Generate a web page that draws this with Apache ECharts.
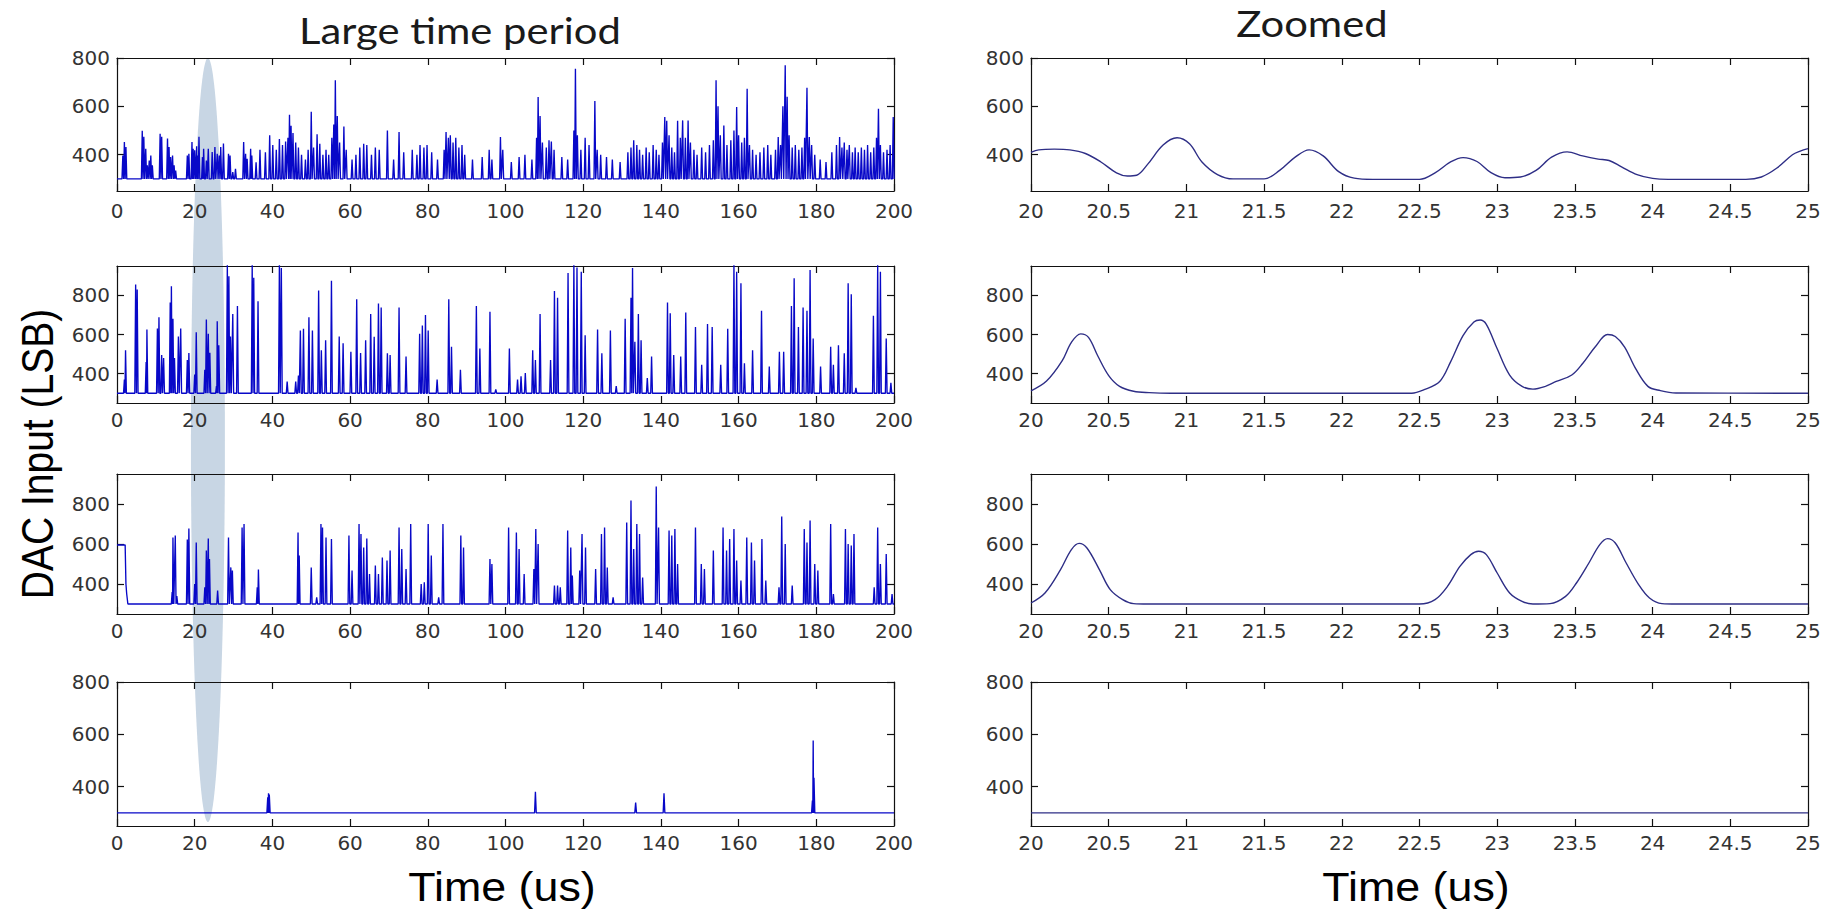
<!DOCTYPE html>
<html><head><meta charset="utf-8">
<script src="https://cdn.jsdelivr.net/npm/echarts@6/dist/echarts.min.js"></script>
<style>html,body{margin:0;padding:0;background:#fff}#chart{width:1843px;height:909px}</style>
</head><body><div id="chart"></div>
<script>
// ---------------- data ----------------
const BASELINE = 300;
const longTimeTicks = [0, 20, 40, 60, 80, 100, 120, 140, 160, 180, 200];
const zoomTimeTicks = [20, 20.5, 21, 21.5, 22, 22.5, 23, 23.5, 24, 24.5, 25];
const yTickValues = [400, 600, 800];
const rowYRanges = [[250, 800], [250, 950], [250, 950], [250, 800]];
const HIGHLIGHT_TIME = 23.4;

// Long-period panels: pulse peaks [time (us), DAC code]
const longRow1Peaks = [[1.5,397],[1.9,453],[2.3,432],[6.5,499],[6.9,474],[7.4,425],[7.8,356],[8.3,376],[8.7,397],[9.1,356],[11.1,487],[11.5,474],[13.0,467],[13.4,432],[13.8,390],[14.3,397],[14.7,356],[15.1,335],[18.1,397],[18.5,404],[19.3,453],[19.6,425],[20.0,418],[20.5,435],[20.7,397],[21.1,474],[22.0,390],[22.3,425],[23.0,376],[23.5,425],[24.5,411],[25.2,432],[25.8,404],[26.3,397],[26.7,432],[27.4,446],[28.7,404],[29.1,397],[29.8,328],[30.5,342],[32.6,453],[33.1,404],[33.5,383],[34.4,425],[34.7,397],[35.8,369],[36.8,420],[38.2,410],[39.3,480],[40.1,440],[41.0,420],[41.8,465],[42.6,440],[43.4,455],[44.0,470],[44.4,565],[44.8,520],[45.3,490],[46.0,450],[46.7,430],[47.5,400],[48.5,380],[49.2,420],[50.0,578],[50.6,430],[51.5,485],[52.2,445],[53.0,400],[53.8,420],[54.5,400],[55.3,470],[55.8,525],[56.2,708],[56.7,560],[57.3,450],[58.4,517],[59.0,420],[60.5,380],[61.5,400],[62.5,430],[63.5,445],[64.3,440],[65.5,400],[66.5,430],[67.5,420],[69.6,500],[71.2,380],[72.6,494],[73.8,410],[76.0,420],[77.2,400],[78.0,440],[79.0,430],[79.8,440],[81.0,410],[82.5,380],[84.2,420],[84.7,494],[85.3,470],[85.8,480],[86.5,450],[87.2,470],[88.0,430],[88.8,440],[89.5,400],[91.5,380],[94.0,390],[95.8,420],[96.5,380],[98.7,473],[99.3,420],[101.5,370],[103.5,390],[105.0,400],[106.8,380],[108.0,470],[108.4,639],[108.9,560],[109.5,450],[110.5,430],[111.2,460],[111.8,455],[112.5,420],[114.5,390],[116.0,380],[117.6,500],[118.0,756],[118.5,480],[119.4,420],[120.5,470],[121.5,440],[123.0,622],[123.6,420],[124.5,400],[126.0,390],[127.5,380],[129.5,370],[131.5,410],[132.3,430],[133.0,460],[133.8,440],[134.5,420],[135.3,400],[136.2,430],[137.0,410],[138.0,440],[138.8,420],[139.5,400],[140.4,450],[141.0,556],[141.5,540],[142.1,480],[142.8,430],[143.5,410],[144.3,540],[145.0,470],[145.6,542],[146.3,470],[147.0,542],[147.6,450],[148.5,420],[149.3,400],[150.5,430],[151.5,410],[152.5,440],[153.5,460],[154.2,708],[154.7,600],[155.3,480],[156.2,521],[157.0,440],[158.0,460],[158.8,500],[159.5,597],[160.0,480],[160.8,450],[161.5,470],[162.2,673],[162.8,440],[163.6,420],[164.5,400],[165.5,410],[166.5,430],[167.5,440],[168.3,400],[169.5,420],[170.2,473],[170.8,440],[171.4,600],[172.0,770],[172.5,640],[173.0,480],[173.8,430],[174.6,440],[175.5,420],[176.3,430],[177.0,470],[177.6,677],[178.2,473],[178.8,440],[179.6,400],[181.0,380],[182.5,370],[184.0,410],[185.2,440],[186.0,473],[186.6,430],[187.2,450],[187.9,420],[188.5,440],[189.3,410],[190.0,430],[190.8,410],[191.6,430],[192.4,420],[193.2,440],[194.0,410],[194.8,430],[195.5,470],[196.0,590],[196.5,440],[197.3,410],[198.2,420],[199.0,440],[199.8,556]];

const longRow2Peaks = [[1.9,370],[2.2,520],[4.8,855],[5.2,830],[7.5,460],[7.7,626],[10.4,630],[10.8,688],[11.5,495],[12.0,480],[13.7,763],[14.0,847],[14.4,680],[14.8,480],[15.8,590],[16.4,630],[18.1,470],[18.5,505],[20.0,395],[20.4,612],[22.6,420],[23.0,676],[23.5,604],[23.9,507],[25.6,336],[25.8,668],[26.2,545],[28.4,960],[28.8,897],[29.2,590],[29.8,705],[31.0,746],[34.8,960],[35.2,890],[36.3,770],[41.8,960],[42.3,940],[43.8,360],[46.0,360],[46.7,390],[47.2,621],[48.0,629],[49.4,688],[50.3,620],[51.9,825],[52.6,520],[53.7,570],[55.2,875],[57.2,590],[58.2,555],[60.2,512],[61.7,780],[62.7,505],[64.0,570],[65.3,705],[66.2,588],[67.3,758],[68.0,738],[69.6,504],[70.3,495],[72.6,738],[74.4,487],[77.9,604],[78.6,646],[79.4,700],[80.1,620],[82.4,370],[85.4,780],[86.1,537],[88.4,420],[92.5,746],[93.4,528],[96.0,716],[97.5,320],[101.0,528],[103.1,370],[104.0,387],[105.1,403],[107.0,520],[107.7,470],[108.9,705],[111.6,470],[112.6,822],[113.4,788],[116.1,914],[117.6,960],[118.4,942],[119.5,920],[120.5,596],[123.7,625],[124.8,504],[127.0,620],[128.5,336],[130.8,680],[132.3,788],[132.7,940],[133.3,563],[134.2,705],[134.9,570],[136.5,378],[137.6,487],[141.7,763],[142.4,708],[143.3,495],[145.1,487],[146.4,713],[148.9,638],[150.5,445],[152.0,654],[153.2,638],[155.4,445],[157.2,629],[158.8,960],[159.5,920],[160.6,862],[161.5,453],[163.6,520],[165.9,721],[167.9,437],[170.5,512],[171.6,512],[173.6,746],[174.3,888],[175.4,638],[176.6,738],[177.6,721],[178.4,930],[179.2,579],[181.1,437],[183.7,537],[184.4,445],[185.7,545],[187.2,504],[188.2,862],[189.0,805],[190.2,328],[194.7,696],[195.8,960],[196.5,920],[198.0,579],[199.2,353]];

const longRow3Lead = [[0,595],[2.1,595],[2.3,400],[2.5,350],[2.8,300]];
const longRow3Peaks = [[14.2,360],[14.4,633],[15.0,642],[15.4,340],[18.1,622],[18.5,678],[20.0,400],[20.4,608],[22.6,383],[23.0,567],[23.5,628],[23.8,525],[25.9,367],[28.7,633],[29.3,483],[29.7,467],[32.2,683],[32.7,700],[36.1,383],[36.4,472],[46.6,658],[46.9,542],[50.0,483],[51.4,333],[52.5,700],[52.9,683],[53.8,633],[55.2,625],[59.7,642],[60.5,467],[62.3,700],[62.8,650],[63.5,583],[64.3,628],[65.0,450],[66.5,492],[67.3,450],[68.3,533],[69.5,517],[70.3,567],[72.6,683],[73.3,575],[74.4,475],[75.6,700],[78.3,400],[79.1,408],[80.1,700],[80.9,542],[82.8,333],[83.9,700],[88.5,642],[89.2,583],[96.0,525],[96.5,500],[100.8,683],[102.8,658],[103.5,575],[104.8,450],[107.3,475],[107.8,675],[108.4,600],[112.6,392],[113.4,392],[114.1,383],[116.0,667],[116.8,583],[117.2,442],[119.1,467],[119.7,650],[120.6,583],[123.2,475],[124.7,650],[125.5,683],[126.2,483],[127.7,333],[131.2,708],[132.3,817],[133.0,575],[133.8,700],[134.5,650],[135.3,433],[138.8,887],[139.4,683],[142.1,667],[142.8,642],[143.6,675],[144.3,500],[148.9,683],[150.4,500],[151.2,475],[153.5,567],[156.0,683],[156.9,567],[157.7,625],[158.8,675],[159.5,517],[160.6,417],[162.1,633],[163.3,608],[164.1,517],[166.0,625],[167.0,417],[170.4,383],[171.1,737],[172.0,600],[173.8,392],[176.9,675],[177.6,608],[178.4,717],[179.6,500],[180.4,467],[183.7,700],[184.4,350],[187.5,675],[188.2,600],[189.0,592],[189.7,650],[194.9,383],[195.8,683],[196.5,500],[198.0,550],[199.5,350]];

const longRow4Peaks = [[38.8,360],[39.0,375],[39.2,370],[107.7,381],[133.5,340],[140.8,375],[179.0,347],[179.2,577],[179.4,434]];

// Zoomed panels (20-25 us): [time (us), DAC code]
const zoomRow1 = [[20.0,410],[20.05,420],[20.15,423],[20.25,420],[20.35,405],[20.45,370],[20.55,325],[20.62,312],[20.68,315],[20.75,360],[20.85,440],[20.94,470],[21.02,445],[21.1,370],[21.2,318],[21.3,300],[21.5,300],[21.6,335],[21.7,390],[21.79,420],[21.88,395],[21.98,330],[22.08,303],[22.2,298],[22.5,298],[22.6,325],[22.7,370],[22.78,388],[22.87,372],[22.96,326],[23.05,305],[23.15,308],[23.25,335],[23.35,390],[23.45,412],[23.55,395],[23.65,382],[23.72,376],[23.8,350],[23.9,318],[24.0,302],[24.1,298],[24.6,298],[24.7,308],[24.8,345],[24.9,400],[24.95,415],[25.0,425]];
const zoomRow2 = [[20.0,312],[20.1,362],[20.2,465],[20.26,560],[20.32,603],[20.37,585],[20.43,490],[20.5,390],[20.57,335],[20.66,310],[20.76,303],[20.9,300],[22.45,300],[22.53,318],[22.63,360],[22.7,460],[22.78,594],[22.85,664],[22.89,674],[22.93,652],[23.0,527],[23.08,393],[23.16,335],[23.23,321],[23.31,335],[23.38,360],[23.48,393],[23.55,452],[23.63,536],[23.71,600],[23.76,590],[23.82,536],[23.89,427],[23.97,335],[24.05,313],[24.15,301],[25.0,300]];
const zoomRow3 = [[20.0,305],[20.09,355],[20.19,472],[20.26,572],[20.31,603],[20.36,580],[20.44,472],[20.51,372],[20.59,322],[20.66,302],[20.75,300],[22.5,300],[22.6,322],[22.68,388],[22.76,488],[22.83,547],[22.88,564],[22.93,547],[23.0,455],[23.08,355],[23.16,313],[23.23,300],[23.34,302],[23.44,338],[23.51,405],[23.59,505],[23.66,597],[23.71,627],[23.76,605],[23.83,505],[23.91,397],[23.98,330],[24.06,302],[24.15,300],[25.0,300]];
const zoomRow4 = [[20.0,300],[25.0,300]];

// ---------------- build ----------------
function spikeLine(peaks, lead) {
  const hw = 0.22;
  const pts = lead ? lead.map(p => p.slice()) : [[longTimeTicks[0], BASELINE]];
  const s = peaks.slice().sort((a, b) => a[0] - b[0]);
  for (let i = 0; i < s.length; i++) {
    const p = s[i], nx = s[i + 1];
    const lastT = pts[pts.length - 1][0];
    if (p[0] - hw > lastT) pts.push([p[0] - hw, BASELINE]);
    pts.push([p[0], p[1]]);
    if (!nx || nx[0] - p[0] > 2 * hw) pts.push([p[0] + hw, BASELINE]);
    else pts.push([(p[0] + nx[0]) / 2, BASELINE]);
  }
  const endT = longTimeTicks[longTimeTicks.length - 1];
  if (pts[pts.length - 1][0] < endT) pts.push([endT, BASELINE]);
  return pts;
}

const leftData = [
  spikeLine(longRow1Peaks),
  spikeLine(longRow2Peaks),
  spikeLine(longRow3Peaks, longRow3Lead),
  spikeLine(longRow4Peaks)
];
const rightData = [zoomRow1, zoomRow2, zoomRow3, zoomRow4];

const rowTops = [58, 266, 474, 682];
const rowHeights = [133, 137, 140, 144];
const colLefts = [117, 1031];
const plotWidth = 777;
const labelMargins = [10, 7, 7, 7];

const grids = [], xAxes = [], yAxes = [], series = [];
const TICK_FONT = 'DejaVu Sans';
for (let r = 0; r < 4; r++) {
  for (let c = 0; c < 2; c++) {
    const g = grids.length;
    grids.push({ left: colLefts[c], top: rowTops[r], width: plotWidth, height: rowHeights[r], outerBoundsMode: 'none', containLabel: false });
    const ticks = c === 0 ? longTimeTicks : zoomTimeTicks;
    const xBase = {
      gridIndex: g, type: 'value', min: ticks[0], max: ticks[ticks.length - 1], interval: ticks[1] - ticks[0],
      axisLine: { show: true, onZero: false, lineStyle: { color: '#111', width: 1.2 } },
      axisTick: { show: true, inside: true, length: 7, lineStyle: { color: '#111', width: 1.2 } },
      splitLine: { show: false }
    };
    xAxes.push(Object.assign({}, xBase, {
      position: 'bottom',
      axisLabel: { show: true, fontFamily: TICK_FONT, fontSize: 20, color: '#333', margin: labelMargins[r], showMinLabel: true, showMaxLabel: true }
    }));
    xAxes.push(Object.assign({}, xBase, { position: 'top', axisLabel: { show: false } }));
    const yr = rowYRanges[r];
    const yBase = {
      gridIndex: g, type: 'value', min: yr[0], max: yr[1],
      axisLine: { show: true, onZero: false, lineStyle: { color: '#111', width: 1.2 } },
      axisTick: { show: true, inside: true, length: 7, customValues: yTickValues, lineStyle: { color: '#111', width: 1.2 } },
      splitLine: { show: false }
    };
    yAxes.push(Object.assign({}, yBase, {
      position: 'left',
      axisLabel: { show: true, customValues: yTickValues, fontFamily: TICK_FONT, fontSize: 20, color: '#333', margin: 7 }
    }));
    yAxes.push(Object.assign({}, yBase, { position: 'right', axisLabel: { show: false } }));
    series.push({
      type: 'line', xAxisIndex: 2 * g, yAxisIndex: 2 * g,
      data: c === 0 ? leftData[r] : rightData[r],
      showSymbol: false, symbol: 'none', smooth: c === 1 ? 0.35 : false,
      lineStyle: { color: c === 0 ? '#0808c8' : '#2e2e86', width: c === 0 ? 1.35 : 1.4 },
      z: 3, silent: true
    });
  }
}

const chart = echarts.init(document.getElementById('chart'), null, { renderer: 'svg', width: 1843, height: 909 });
chart.setOption({
  backgroundColor: '#ffffff',
  animation: false,
  grid: grids, xAxis: xAxes, yAxis: yAxes, series: series
});

const hx = chart.convertToPixel({ xAxisIndex: 0 }, HIGHLIGHT_TIME);
chart.setOption({
  graphic: [
    { type: 'ellipse', z: -10, silent: true, shape: { cx: hx, cy: 440, rx: 17, ry: 382 }, style: { fill: '#c8d6e4' } },
    { type: 'text', x: 460, y: 29, scaleX: 1.13, style: { text: 'Large time period', font: '37px Lato', fill: '#1a1a1a', align: 'center', verticalAlign: 'middle' } },
    { type: 'text', x: 1312, y: 22, scaleX: 1.13, style: { text: 'Zoomed', font: '37px Lato', fill: '#1a1a1a', align: 'center', verticalAlign: 'middle' } },
    { type: 'text', x: 502, y: 887, scaleX: 1.12, style: { text: 'Time (us)', font: '40px "Liberation Sans"', fill: '#000', align: 'center', verticalAlign: 'middle' } },
    { type: 'text', x: 1416, y: 887, scaleX: 1.12, style: { text: 'Time (us)', font: '40px "Liberation Sans"', fill: '#000', align: 'center', verticalAlign: 'middle' } },
    { type: 'text', x: 38, y: 454, rotation: Math.PI / 2, scaleY: 1.12, style: { text: 'DAC Input (LSB)', font: '39px "Liberation Sans"', fill: '#000', align: 'center', verticalAlign: 'middle' } }
  ]
});
</script></body></html>
